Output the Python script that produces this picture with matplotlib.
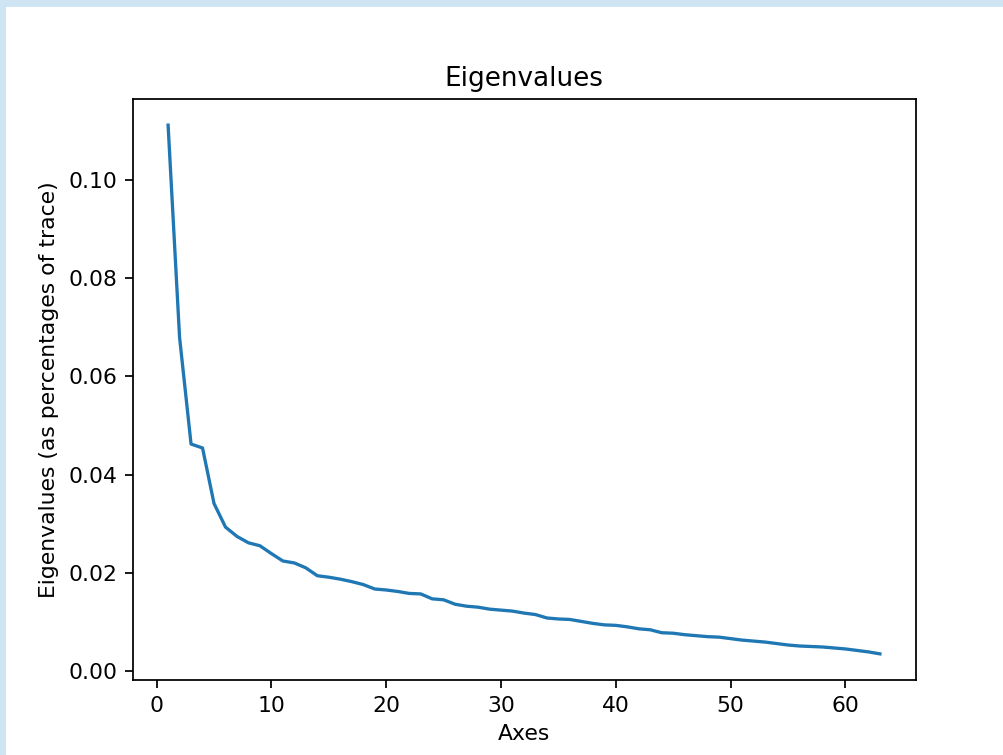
import matplotlib
matplotlib.use("Agg")
import matplotlib.pyplot as plt
from matplotlib.patches import Rectangle

axes_idx = list(range(1, 64))
eigenvalues = [
    0.1111, 0.0679, 0.0462, 0.0454, 0.0341, 0.0293, 0.0274, 0.0261, 0.0255, 0.0239,
    0.0224, 0.0220, 0.0210, 0.0194, 0.0191, 0.0187, 0.0182, 0.0176, 0.0167, 0.0165,
    0.0162, 0.0158, 0.0157, 0.0147, 0.0145, 0.0136, 0.0132, 0.0130, 0.0126, 0.0124,
    0.0122, 0.0118, 0.0115, 0.0108, 0.0106, 0.0105, 0.0101, 0.0097, 0.0094, 0.0093,
    0.0090, 0.0086, 0.0084, 0.0078, 0.0077, 0.0074, 0.0072, 0.0070, 0.0069, 0.0066,
    0.0063, 0.0061, 0.0059, 0.0056, 0.0053, 0.0051, 0.0050, 0.0049, 0.0047, 0.0045,
    0.0042, 0.0039, 0.0035,
]

W, H = 1003, 755
dpi = 157.86
fig = plt.figure(figsize=(W / dpi, H / dpi), dpi=dpi)
fig.patch.set_facecolor("white")

border = "#d0e5f4"
fig.patches.append(Rectangle((0, 1 - 7 / H), 1, 7 / H, transform=fig.transFigure,
                             facecolor=border, edgecolor="none", zorder=-1))
fig.patches.append(Rectangle((0, 0), 6 / W, 1, transform=fig.transFigure,
                             facecolor=border, edgecolor="none", zorder=-1))

ax = fig.add_axes([132.5 / W, (H - 680.3) / H, 783 / W, 581.6 / H])
ax.plot(axes_idx, eigenvalues)
ax.set_title("Eigenvalues")
ax.set_xlabel("Axes")
ax.set_ylabel("Eigenvalues (as percentages of trace)")

fig.savefig("out.png", dpi=dpi)
